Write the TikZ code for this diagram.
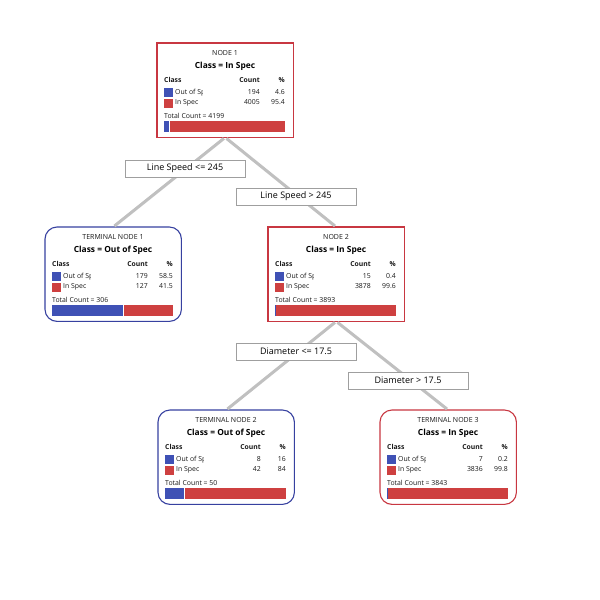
\documentclass[tikz,border=0pt]{standalone}
\usepackage{fontspec}
\setmainfont{Open Sans}
\definecolor{cblue}{RGB}{63,81,181}
\definecolor{cred}{RGB}{206,64,64}
\definecolor{bred}{RGB}{200,55,65}
\definecolor{bblue}{RGB}{55,65,160}
\definecolor{edgegray}{RGB}{192,192,192}
\definecolor{txt}{RGB}{25,25,25}
\tikzset{
  frame/.style={fill=white, minimum width=136pt, minimum height=94pt, anchor=north west, inner sep=0pt},
  border/.style={line width=1.1pt},
  redsq/.style={border, draw=bred},
  bluerd/.style={border, draw=bblue, rounded corners=12pt},
  redrd/.style={border, draw=bred, rounded corners=12pt},
  hdr/.style={font=\fontsize{7}{8}\selectfont, inner sep=0pt, text=txt},
  ttl/.style={font=\bfseries\fontsize{8.4}{9.5}\selectfont, inner sep=0pt, text=black},
  small/.style={font=\fontsize{6.9}{8}\selectfont, inner sep=0pt, text height=5pt, text depth=1.4pt, text=txt},
  smallb/.style={small, font=\bfseries\fontsize{6.8}{8}\selectfont},
  edge/.style={draw=edgegray, line width=3pt, shorten <=1.6pt, shorten >=1.6pt},
  split/.style={draw=gray!75, fill=white, line width=0.6pt, minimum width=120pt, minimum height=17pt, inner sep=0pt, font=\fontsize{9}{10}\selectfont, text=black}
}
\newcommand\tbox[9]{%
  \def\tbName{#1}\def\tbX{#2}\def\tbY{#3}\def\tbHead{#4}\def\tbClass{#5}%
  \def\tbCa{#6}\def\tbPa{#7}\def\tbCb{#8}\def\tbPb{#9}\tboxrest}
\newcommand\tboxrest[1]{%
  \begin{scope}[shift={(\tbX,\tbY)}]
    \node[frame] (\tbName) at (0,0) {};
    \node[hdr] (\tbName-head) at (68,10) {\tbHead};
    \node[ttl] (\tbName-class) at (68,23) {\tbClass};
    \node[smallb, anchor=west] (\tbName-ch) at (7,38) {Class};
    \node[smallb, anchor=east] (\tbName-cnth) at (103,38) {Count};
    \node[smallb, anchor=east] (\tbName-pcth) at (128,38) {\%};
    \fill[cblue] (7,45) rectangle (16,54);
    \fill[cred] (7,55.5) rectangle (16,64.5);
    \begin{scope}
      \clip (16,44) rectangle (45.5,56);
      \node[small, anchor=west] (\tbName-l1) at (18,49.5) {Out of Spec};
    \end{scope}
    \node[small, anchor=west] (\tbName-l2) at (18,60) {In Spec};
    \node[small, anchor=east] (\tbName-c1) at (103,49.5) {\tbCa};
    \node[small, anchor=east] (\tbName-p1) at (128,49.5) {\tbPa};
    \node[small, anchor=east] (\tbName-c2) at (103,60) {\tbCb};
    \node[small, anchor=east] (\tbName-p2) at (128,60) {\tbPb};
    \node[small, anchor=west] (\tbName-tot) at (7,73.5) {Total Count = #1};
    \pgfmathsetmacro\tbW{121*\tbPa/100}
    \fill[cred] (7,78) rectangle (128,89);
    \fill[cblue] (7,78) rectangle ({7+\tbW},89);
    \ifdim\tbW pt>1pt \draw[white, line width=0.5pt] ({7+\tbW},78) -- ({7+\tbW},89);\fi
  \end{scope}}
\begin{document}
\begin{tikzpicture}[x=1pt, y=-1pt]
  \useasboundingbox (0,0) rectangle (600,600);
  \fill[white] (0,0) rectangle (600,600);
  \tbox{n1}{157}{43}{NODE 1}{Class = In Spec}{194}{4.6}{4005}{95.4}{4199}
  \tbox{t1}{45}{227}{TERMINAL NODE 1}{Class = Out of Spec}{179}{58.5}{127}{41.5}{306}
  \tbox{n2}{268}{227}{NODE 2}{Class = In Spec}{15}{0.4}{3878}{99.6}{3893}
  \tbox{t2}{158}{410}{TERMINAL NODE 2}{Class = Out of Spec}{8}{16}{42}{84}{50}
  \tbox{t3}{380}{410}{TERMINAL NODE 3}{Class = In Spec}{7}{0.2}{3836}{99.8}{3843}
  \draw[redsq] (n1.north west) rectangle (n1.south east);
  \draw[redsq] (n2.north west) rectangle (n2.south east);
  \draw[bluerd] (t1.north west) rectangle (t1.south east);
  \draw[bluerd] (t2.north west) rectangle (t2.south east);
  \draw[redrd] (t3.north west) rectangle (t3.south east);
  \path[edge] (n1.south) -- (t1.north);
  \path[edge] (n1.south) -- (n2.north);
  \path[edge] (n2.south) -- (t2.north);
  \path[edge] (n2.south) -- (t3.north);
  \node[split] (s1) at (185,168.5) {Line Speed <= 245};
  \node[split] (s2) at (296,196.5) {Line Speed > 245};
  \node[split] (s3) at (296,351.5) {Diameter <= 17.5};
  \node[split] (s4) at (408,380.5) {Diameter > 17.5};
\end{tikzpicture}
\end{document}
